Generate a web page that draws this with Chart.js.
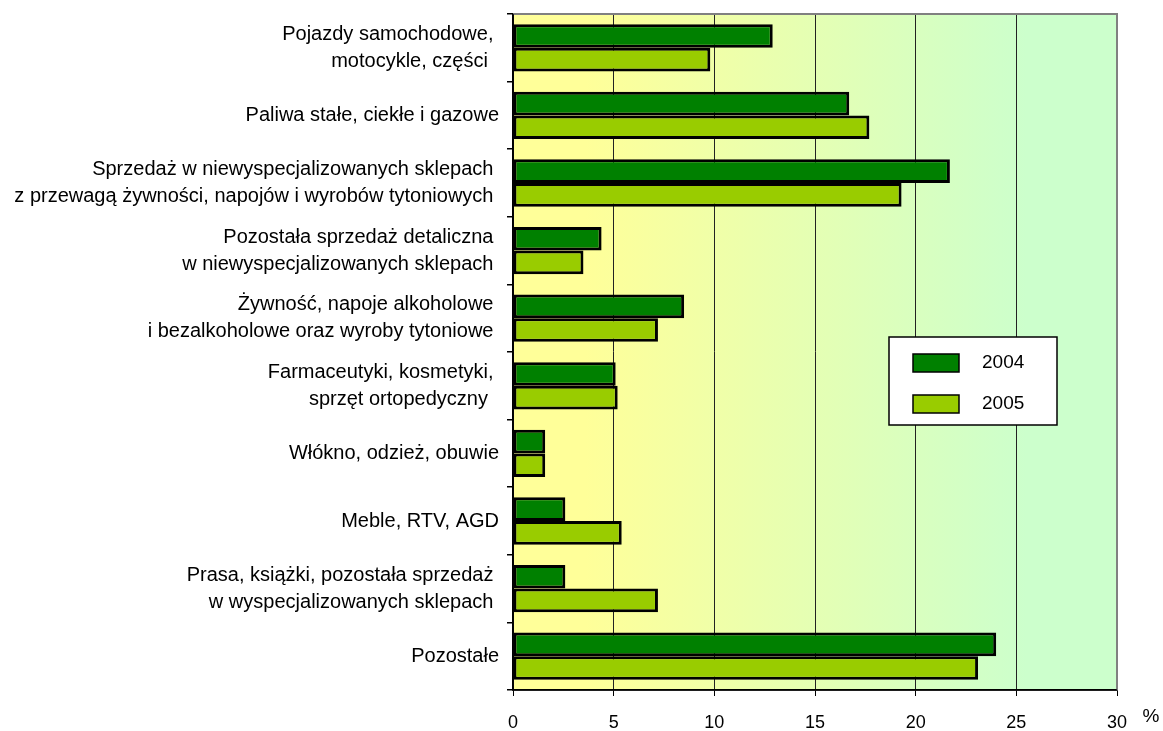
<!DOCTYPE html>
<html>
<head>
<meta charset="utf-8">
<script src="https://cdn.jsdelivr.net/npm/chart.js@4"></script>
<style>
html,body{margin:0;padding:0;background:#fff;}
#wrap{width:1163px;height:731px;position:relative;}
</style>
</head>
<body>
<div id="wrap"><canvas id="c"></canvas></div>
<script>
const categories = [
  ["Pojazdy samochodowe, ", "motocykle, części  "],
  ["Paliwa stałe, ciekłe i gazowe"],
  ["Sprzedaż w niewyspecjalizowanych sklepach ", "z przewagą żywności, napojów i wyrobów tytoniowych "],
  ["Pozostała sprzedaż detaliczna ", "w niewyspecjalizowanych sklepach "],
  ["Żywność, napoje alkoholowe ", "i bezalkoholowe oraz wyroby tytoniowe "],
  ["Farmaceutyki, kosmetyki, ", "sprzęt ortopedyczny  "],
  ["Włókno, odzież, obuwie"],
  ["Meble, RTV, AGD"],
  ["Prasa, książki, pozostała sprzedaż ", "w wyspecjalizowanych sklepach "],
  ["Pozostałe"]
];
const seriesNames = ["2004", "2005"];
const values2004 = [12.9, 16.7, 21.7, 4.4, 8.5, 5.1, 1.6, 2.6, 2.6, 24.0];
const values2005 = [9.8, 17.7, 19.3, 3.5, 7.2, 5.2, 1.6, 5.4, 7.2, 23.1];
const xTicks = [0, 5, 10, 15, 20, 25, 30];
const axisUnit = "%";

const FONT = "'Liberation Sans', Arial, sans-serif";

const bgPlugin = {
  id: 'bg',
  beforeDraw(chart) {
    const {ctx, chartArea: a} = chart;
    ctx.save();
    const g = ctx.createLinearGradient(a.left, 0, a.right, 0);
    g.addColorStop(0, '#FFFF99');
    g.addColorStop(0.12, '#FFFF99');
    g.addColorStop(0.85, '#CCFFCC');
    g.addColorStop(1, '#CCFFCC');
    ctx.fillStyle = g;
    ctx.fillRect(a.left, a.top, a.right - a.left, a.bottom - a.top);
    ctx.restore();
  },
  afterDraw(chart) {
    const {ctx, chartArea: a} = chart;
    ctx.save();
    ctx.strokeStyle = '#808080';
    ctx.lineWidth = 2;
    ctx.beginPath();
    ctx.moveTo(a.left, a.top);
    ctx.lineTo(a.right, a.top);
    ctx.lineTo(a.right, a.bottom);
    ctx.stroke();
    ctx.strokeStyle = '#000';
    ctx.lineWidth = 1.5;
    ctx.beginPath();
    ctx.moveTo(a.left, a.top);
    ctx.lineTo(a.left, a.bottom);
    ctx.lineTo(a.right, a.bottom);
    ctx.stroke();

    // legend
    const bx = 889, by = 337, bw = 168, bh = 88;
    ctx.fillStyle = '#fff';
    ctx.fillRect(bx, by, bw, bh);
    ctx.strokeStyle = '#000';
    ctx.lineWidth = 1.5;
    ctx.strokeRect(bx, by, bw, bh);
    const ys = [354, 395];
    chart.data.datasets.forEach((ds, i) => {
      ctx.fillStyle = ds.backgroundColor;
      ctx.fillRect(913, ys[i], 46, 18);
      ctx.strokeStyle = '#000';
      ctx.lineWidth = 1.5;
      ctx.strokeRect(913, ys[i], 46, 18);
      ctx.fillStyle = '#000';
      ctx.font = '19px ' + FONT;
      ctx.textBaseline = 'middle';
      ctx.textAlign = 'left';
      ctx.fillText(ds.label, 982, ys[i] + 9);
    });

    ctx.fillStyle = '#000';
    ctx.font = '19px ' + FONT;
    ctx.textAlign = 'center';
    ctx.textBaseline = 'middle';
    ctx.fillText(axisUnit, 1151, 717);
    ctx.restore();
  }
};

new Chart(document.getElementById('c'), {
  type: 'bar',
  data: {
    labels: categories,
    datasets: [
      {label: seriesNames[0], data: values2004, backgroundColor: '#008000', borderColor: '#000', borderWidth: 3, borderSkipped: false},
      {label: seriesNames[1], data: values2005, backgroundColor: '#99CC00', borderColor: '#000', borderWidth: 3, borderSkipped: false}
    ]
  },
  options: {
    indexAxis: 'y',
    responsive: true,
    maintainAspectRatio: false,
    animation: false,
    devicePixelRatio: 1,
    layout: {padding: {top: 14, right: 46, left: 0, bottom: 0}},
    categoryPercentage: 0.7,
    barPercentage: 1.0,
    plugins: {legend: {display: false}, tooltip: {enabled: false}},
    scales: {
      x: {
        min: 0, max: 30,
        afterBuildTicks(s) { s.ticks = xTicks.map(v => ({value: v})); },
        afterFit(s) { s.height = 41; s.paddingLeft = 0; s.paddingRight = 0; },
        grid: {color: '#222', lineWidth: 1, drawTicks: true, tickLength: 6, tickColor: '#000'},
        border: {color: '#000', width: 1.5},
        ticks: {color: '#000', font: {family: FONT, size: 18}, padding: 16, maxRotation: 0}
      },
      y: {
        afterFit(s) { s.width = 513; s.paddingTop = 0; s.paddingBottom = 0; },
        grid: {offset: true, drawOnChartArea: false, drawTicks: true, tickLength: 6, tickColor: '#000', lineWidth: 1.5},
        border: {color: '#000', width: 1.5},
        ticks: {color: '#000', font: {family: FONT, size: 20, lineHeight: 1.35}, padding: 8, crossAlign: 'near'}
      }
    }
  },
  plugins: [bgPlugin]
});
</script>
</body>
</html>
